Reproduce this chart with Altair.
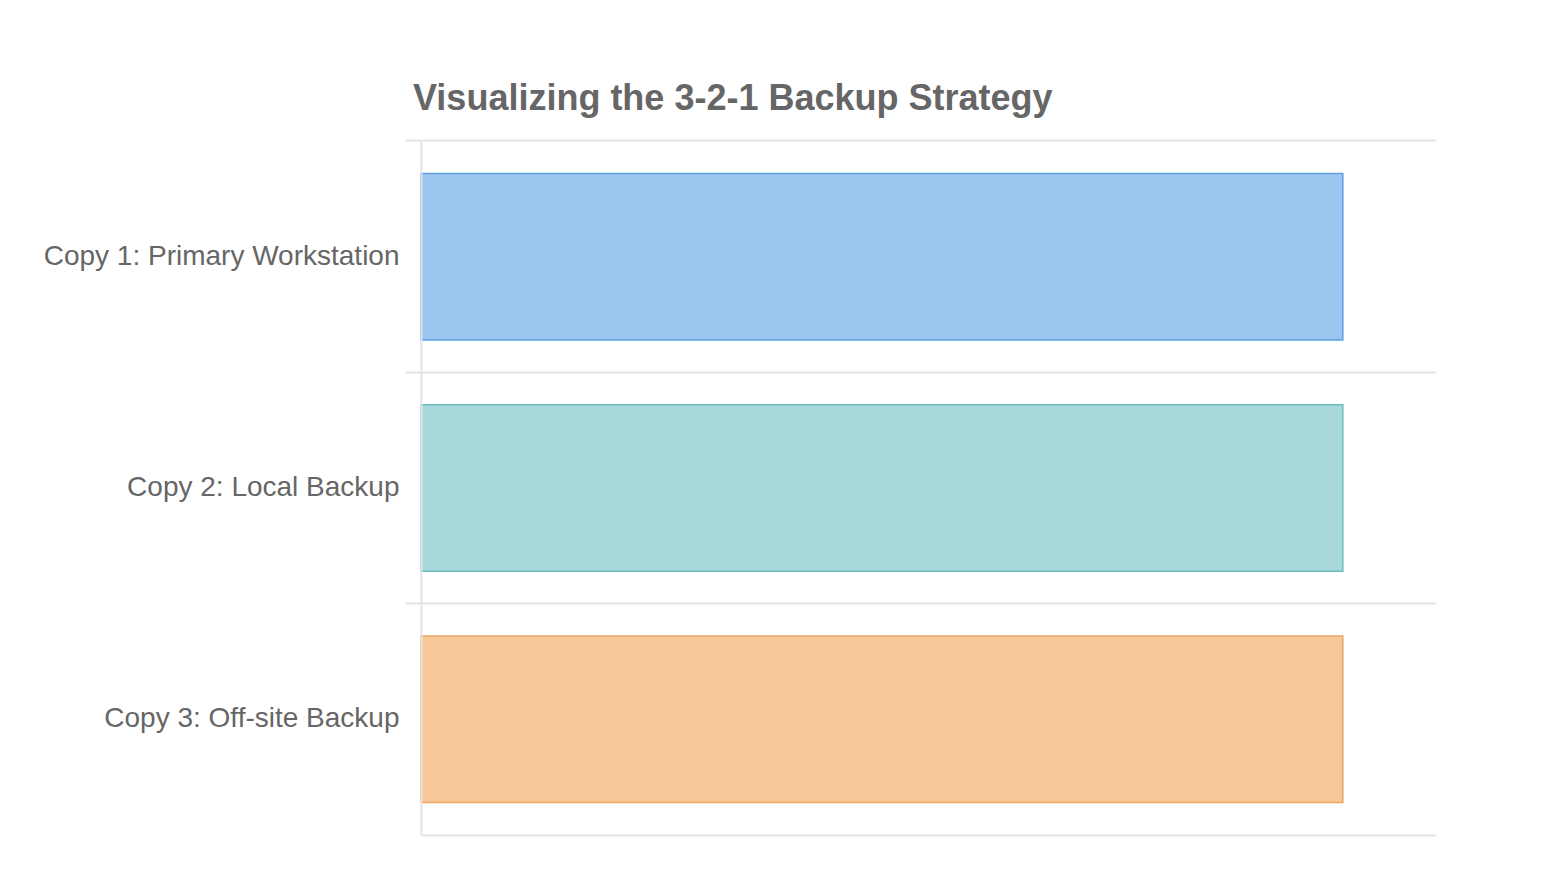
import altair as alt
import pandas as pd

categories = ["Copy 1: Primary Workstation", "Copy 2: Local Backup", "Copy 3: Off-site Backup"]
values = [1, 1, 1]
fill_colors = ["#9cc5ef", "#a8d8da", "#f6c899"]
stroke_colors = ["#5e9fe3", "#6cbfc1", "#eea461"]

df = pd.DataFrame({"copy": categories, "value": values})

font = "Liberation Sans"
pi, po = 0.28, 0.14
bw = 1 - pi

bars = alt.Chart(df).mark_bar(strokeWidth=1.5, strokeOpacity=1, fillOpacity=1).encode(
    y=alt.Y("copy:N", sort=categories,
            scale=alt.Scale(paddingInner=pi, paddingOuter=po),
            axis=alt.Axis(title=None, orient="left", labelFont=font, labelFontSize=28,
                          labelColor="#666666", labelPadding=6, labelLimit=600,
                          bandPosition=-(po / bw), tickSize=16, tickColor="#e3e3e3",
                          tickWidth=2, grid=True, gridColor="#e3e3e3", gridWidth=2,
                          domain=True, domainColor="#e3e3e3", domainWidth=2, zindex=1)),
    x=alt.X("value:Q", scale=alt.Scale(domain=[0, 1.1], nice=False),
            axis=alt.Axis(title=None, labels=False, ticks=False, grid=False, domain=True,
                          domainColor="#e3e3e3", domainWidth=2, orient="bottom", zindex=1)),
    fill=alt.Fill("copy:N", scale=alt.Scale(domain=categories, range=fill_colors), legend=None),
    stroke=alt.Stroke("copy:N", scale=alt.Scale(domain=categories, range=stroke_colors), legend=None),
)

chart = bars.properties(
    width=1014, height=694,
    title=alt.TitleParams("Visualizing the 3-2-1 Backup Strategy", anchor="start", frame="group",
                          dx=-8, font=font, fontSize=36, fontWeight="bold", color="#666666",
                          offset=21),
    autosize=alt.AutoSizeParams(type="none"),
    padding={"left": 413, "top": 133, "right": 100, "bottom": 40},
).configure_view(stroke=None)

chart.save("out.html", embed_options={"renderer": "svg", "actions": False})
